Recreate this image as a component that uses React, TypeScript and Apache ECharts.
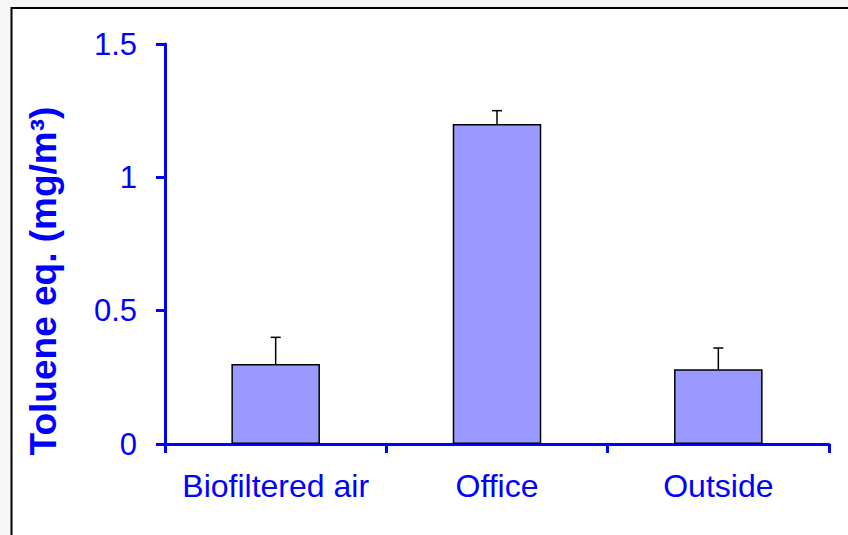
import React, { useEffect, useRef } from "react";
import * as echarts from "echarts";

const categories = ["Biofiltered air", "Office", "Outside"];
const means = [0.3, 1.2, 0.28];
const upperErrors = [0.4, 1.25, 0.36];
const yTicks = { min: 0, max: 1.5, interval: 0.5 };
const yTitle = "Toluene eq. (mg/m³)";

export default function App() {
  const ref = useRef<HTMLDivElement>(null);
  useEffect(() => {
    if (!ref.current) return;
    const chart = echarts.init(ref.current, null, { renderer: "svg" });
    const blue = "#0000FF";
    const font = "Liberation Sans, Arial, sans-serif";
    chart.setOption({
      animation: false,
      backgroundColor: "#f6f6f6",
      graphic: [
        {
          type: "rect",
          z: -10,
          shape: { x: 11.5, y: 8, width: 900, height: 600 },
          style: { fill: "#ffffff", stroke: "#000000", lineWidth: 2 },
        },
        {
          type: "text",
          x: 43,
          y: 281,
          rotation: Math.PI / 2,
          style: {
            text: yTitle,
            fill: blue,
            font: `bold 37px ${font}`,
            align: "center",
            verticalAlign: "middle",
          },
        },
      ],
      grid: { left: 165, right: 19, top: 44, bottom: 91, containLabel: false },
      xAxis: {
        type: "category",
        data: categories,
        boundaryGap: true,
        axisLine: { lineStyle: { color: blue, width: 3 } },
        axisTick: { show: true, interval: 0, length: 9, lineStyle: { color: blue, width: 3 } },
        axisLabel: { interval: 0, color: blue, fontSize: 32, fontFamily: font, margin: 26 },
      },
      yAxis: {
        type: "value",
        min: yTicks.min,
        max: yTicks.max,
        interval: yTicks.interval,
        splitLine: { show: false },
        axisLine: { show: true, lineStyle: { color: blue, width: 3 } },
        axisTick: { show: true, length: 9, lineStyle: { color: blue, width: 3 } },
        axisLabel: { color: blue, fontSize: 31, fontFamily: font, margin: 28 },
      },
      series: [
        {
          type: "bar",
          data: means,
          barWidth: "40%",
          itemStyle: { color: "#9999FF", borderColor: "#000000", borderWidth: 1.5 },
          z: 2,
        },
        {
          type: "custom",
          z: 3,
          data: means.map((m, i) => [i, m, upperErrors[i]]),
          renderItem: (params: any, api: any) => {
            const x = api.value(0);
            const base = api.coord([x, api.value(1)]);
            const top = api.coord([x, api.value(2)]);
            const hw = 5;
            const st = { stroke: "#000000", lineWidth: 1.5 };
            return {
              type: "group",
              children: [
                { type: "line", shape: { x1: base[0], y1: base[1], x2: top[0], y2: top[1] }, style: st },
                { type: "line", shape: { x1: top[0] - hw, y1: top[1], x2: top[0] + hw, y2: top[1] }, style: st },
              ],
            };
          },
        },
      ],
    });
    return () => chart.dispose();
  }, []);
  return (
    <div
      ref={ref}
      style={{ position: "absolute", left: 0, top: 0, width: 848, height: 535 }}
    />
  );
}
